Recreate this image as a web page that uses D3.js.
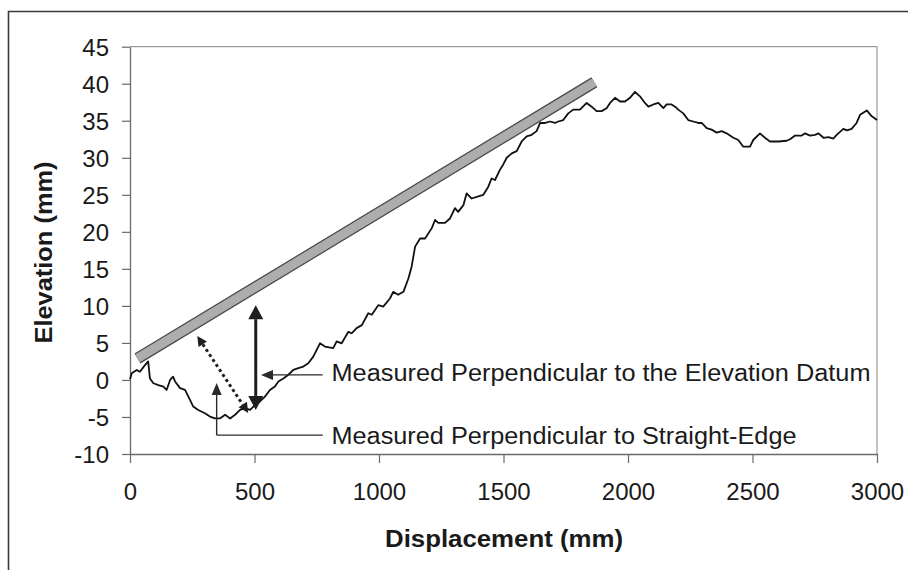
<!DOCTYPE html>
<html><head><meta charset="utf-8">
<script src="https://cdn.jsdelivr.net/npm/d3@7"></script>
<style>
body{margin:0;background:#fff}
svg{display:block}
text{font-family:"Liberation Sans",Arial,Helvetica,sans-serif;fill:#1a1a1a}
</style>
</head><body>
<svg id="chart" width="908" height="570"></svg>
<script>
// ---- data ----
const displacement = [0,7,27,40,60,73,80,94,114,134,147,161,173,181,201,221,241,254,274,301,321,341,361,382,402,422,442,462,482,502,522,542,562,582,596,616,636,656,676,696,716,736,763,783,816,830,850,877,890,910,931,957,971,997,1017,1044,1057,1077,1098,1118,1131,1145,1165,1185,1212,1225,1238,1265,1285,1305,1318,1339,1352,1372,1399,1419,1439,1452,1466,1486,1499,1513,1533,1553,1573,1593,1613,1633,1647,1667,1687,1707,1720,1740,1760,1780,1807,1834,1854,1874,1894,1914,1928,1948,1968,1988,2008,2028,2048,2068,2082,2102,2122,2142,2155,2175,2189,2202,2222,2242,2262,2282,2296,2316,2336,2356,2376,2396,2423,2443,2463,2490,2503,2530,2550,2570,2604,2637,2651,2671,2698,2711,2731,2751,2765,2785,2805,2825,2838,2865,2879,2898,2918,2932,2959,2979,3000];
const elevation = [0.1,0.9,1.35,1.1,2.0,2.5,0.2,-0.45,-0.7,-0.9,-1.35,0.0,0.45,-0.2,-1.1,-1.35,-2.7,-3.6,-4.05,-4.5,-4.95,-5.2,-5.2,-4.7,-5.2,-4.7,-4.05,-3.8,-4.05,-3.4,-2.9,-2.25,-1.35,-0.9,-0.2,0.2,0.7,1.35,1.6,1.8,2.25,3.15,4.95,4.5,4.3,5.2,4.95,6.5,6.3,7.0,7.4,9.0,8.8,10.1,9.9,11.0,11.9,11.5,11.9,13.7,15.3,18.0,19.1,19.1,20.5,21.6,21.2,21.2,21.8,23.2,22.7,23.6,25.2,24.5,24.8,25.0,26.1,27.2,27.0,28.4,29.1,30.0,30.6,30.9,32.2,32.9,33.1,33.6,34.7,34.7,34.9,34.7,34.9,35.1,36.0,36.5,36.5,37.4,36.9,36.3,36.3,36.7,37.4,38.1,37.6,37.6,38.1,38.9,38.3,37.4,36.9,37.2,37.4,36.7,37.2,37.2,36.9,36.5,36.0,35.1,34.9,34.7,34.7,34.0,33.8,33.4,33.6,33.3,32.7,32.4,31.5,31.5,32.4,33.3,32.7,32.2,32.2,32.3,32.5,33.0,33.0,33.3,33.0,33.1,33.3,32.7,32.8,32.6,33.1,33.9,33.7,33.9,34.7,35.8,36.4,35.6,35.1];
const xTickValues = [0,500,1000,1500,2000,2500,3000];
const yTickValues = [-10,-5,0,5,10,15,20,25,30,35,40,45];
const xTitle = "Displacement (mm)";
const yTitle = "Elevation (mm)";
// annotations, in data units
const straightEdgeX = [30,1865];
const straightEdgeY = [2.9,40.2];
const datumArrowX = [505,505];
const datumArrowY = [10.1,-4.05];
const edgeArrowX = [270,475];
const edgeArrowY = [5.95,-4.45];
const label1Text = "Measured Perpendicular to the Elevation Datum";
const label1LineX = [774,526];
const label1LineY = [0.68,0.68];
const label2Text = "Measured Perpendicular to Straight-Edge";
const label2LineX = [774,348,348];
const label2LineY = [-7.45,-7.45,-0.4];

// ---- layout ----
const svg = d3.select("#chart");
const L = 130, R = 877, T = 46.7, B = 454;
const x = d3.scaleLinear().domain([0,3000]).range([L,R]);
const y = d3.scaleLinear().domain([-10,45]).range([B,T]);

// outer frame
svg.append("path").attr("d","M8.5,580 L8.5,11.5 L920,11.5")
  .attr("fill","none").attr("stroke","#3a3a3a").attr("stroke-width",1.6);

// plot area border (top/right)
svg.append("path").attr("d",`M${L},${T} L${R},${T} L${R},${B}`)
  .attr("fill","none").attr("stroke","#9a9a9a").attr("stroke-width",1.2);

// axes
const fmt = d => String(d);
const xAxis = svg.append("g").attr("transform",`translate(0,${B})`)
  .call(d3.axisBottom(x).tickValues(xTickValues).tickFormat(fmt).tickSizeInner(9).tickSizeOuter(0).tickPadding(20));
const yAxis = svg.append("g").attr("transform",`translate(${L},0)`)
  .call(d3.axisLeft(y).tickValues(yTickValues).tickFormat(fmt).tickSizeInner(8).tickSizeOuter(0).tickPadding(13));
[xAxis,yAxis].forEach(g=>{
  g.select(".domain").attr("stroke","#6a6a6a").attr("stroke-width",1.3);
  g.selectAll(".tick line").attr("stroke","#6a6a6a").attr("stroke-width",1.2);
  g.selectAll(".tick text").attr("font-size",24).attr("font-family",'"Liberation Sans",Arial,sans-serif').attr("fill","#1a1a1a");
});
xAxis.selectAll(".tick text").attr("dy","0.71em");
yAxis.selectAll(".tick text").attr("dy","0.36em");

// axis titles
svg.append("text").attr("x",(385+623)/2).attr("y",547).attr("text-anchor","middle")
  .attr("font-size",23).attr("font-weight","bold").attr("textLength",238).attr("lengthAdjust","spacingAndGlyphs").text(xTitle);
svg.append("text").attr("transform",`translate(52,252.5) rotate(-90)`).attr("text-anchor","middle")
  .attr("font-size",23).attr("font-weight","bold").attr("textLength",182).attr("lengthAdjust","spacingAndGlyphs").text(yTitle);

// profile line
const pts = displacement.map((d,i)=>[d,elevation[i]]);
svg.append("path").datum(pts)
  .attr("d",d3.line().x(d=>x(d[0])).y(d=>y(d[1])))
  .attr("fill","none").attr("stroke","#111").attr("stroke-width",1.8).attr("stroke-linejoin","round");

// straight edge bar
const se = svg.append("g");
se.append("line").attr("x1",x(straightEdgeX[0])).attr("y1",y(straightEdgeY[0]))
  .attr("x2",x(straightEdgeX[1])).attr("y2",y(straightEdgeY[1]))
  .attr("stroke","#4a4a4a").attr("stroke-width",11.5).attr("stroke-linecap","butt");
se.append("line").attr("x1",x(straightEdgeX[0])).attr("y1",y(straightEdgeY[0]))
  .attr("x2",x(straightEdgeX[1])).attr("y2",y(straightEdgeY[1]))
  .attr("stroke","#adadad").attr("stroke-width",9).attr("stroke-linecap","butt");

// helpers
function head(tx,ty,fx,fy,len,wid,color){
  const a = Math.atan2(ty-fy,tx-fx);
  const bx = tx-len*Math.cos(a), by = ty-len*Math.sin(a);
  const nx = -Math.sin(a)*wid/2, ny = Math.cos(a)*wid/2;
  svg.append("path").attr("d",`M${tx},${ty} L${bx+nx},${by+ny} L${bx-nx},${by-ny} Z`).attr("fill",color);
  return [bx,by];
}
function arrow(p0,p1,len,wid,sw,color,dash,both){
  const b1 = head(p1[0],p1[1],p0[0],p0[1],len,wid,color);
  const b0 = both ? head(p0[0],p0[1],p1[0],p1[1],len,wid,color) : p0;
  const l = svg.append("line").attr("x1",b0[0]).attr("y1",b0[1]).attr("x2",b1[0]).attr("y2",b1[1])
    .attr("stroke",color).attr("stroke-width",sw);
  if(dash) l.attr("stroke-dasharray",dash);
}

// vertical (datum) arrow
arrow([x(datumArrowX[0]),y(datumArrowY[0])],[x(datumArrowX[1]),y(datumArrowY[1])],14,15,3,"#1e1e1e",null,true);
// dotted (straight-edge) arrow
arrow([x(edgeArrowX[0]),y(edgeArrowY[0])],[x(edgeArrowX[1]),y(edgeArrowY[1])],10,10,3,"#1e1e1e","3,3",true);

// label 1 leader
arrow([x(label1LineX[0]),y(label1LineY[0])],[x(label1LineX[1]),y(label1LineY[1])],12,10,1.4,"#2a2a2a",null,false);
// label 2 leader
const l2 = label2LineX.map((d,i)=>[x(d),y(label2LineY[i])]);
svg.append("path").attr("d",d3.line()(l2.slice(0,2))).attr("fill","none").attr("stroke","#2a2a2a").attr("stroke-width",1.4);
arrow(l2[1],l2[2],12,10,1.4,"#2a2a2a",null,false);

// labels
svg.append("text").attr("x",331.5).attr("y",381).attr("font-size",23)
  .attr("textLength",539).attr("lengthAdjust","spacingAndGlyphs").text(label1Text);
svg.append("text").attr("x",331.5).attr("y",443.5).attr("font-size",23)
  .attr("textLength",465).attr("lengthAdjust","spacingAndGlyphs").text(label2Text);
</script>
</body></html>
